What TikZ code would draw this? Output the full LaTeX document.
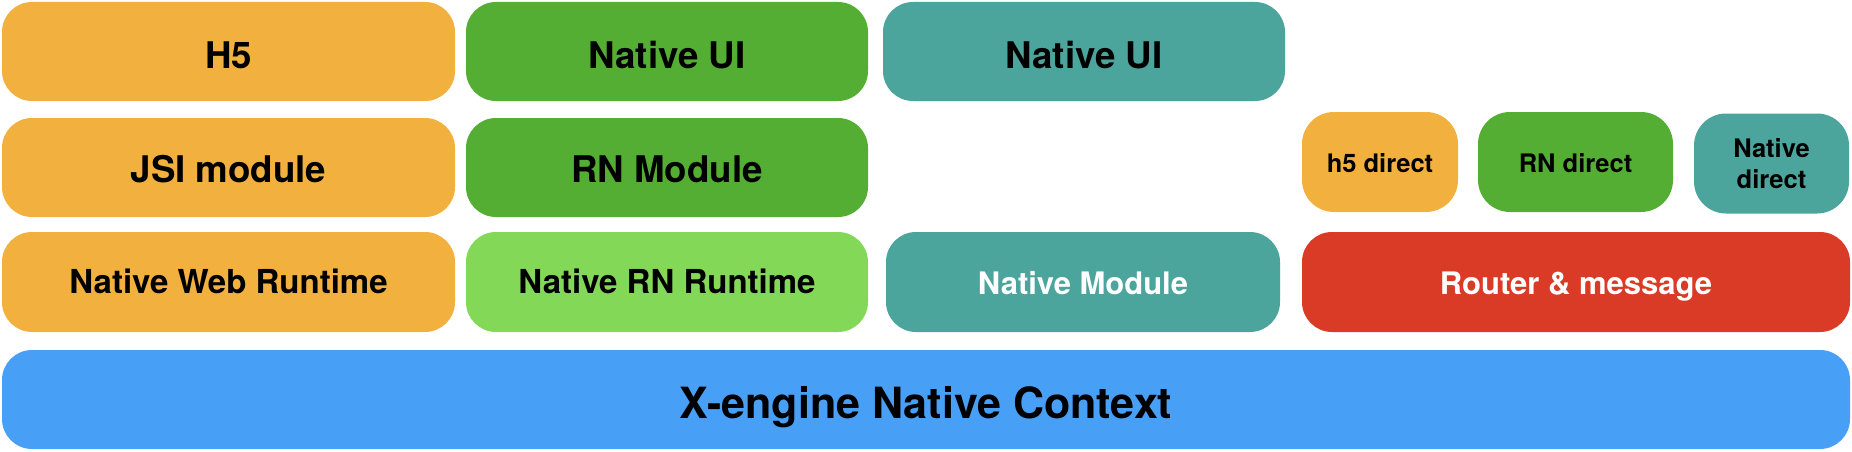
\documentclass[tikz,border=0pt]{standalone}
\usepackage{fontspec}
\setmainfont{TeX Gyre Heros}
\definecolor{cOrange}{HTML}{F2B03F}
\definecolor{cGreen}{HTML}{55AE34}
\definecolor{cTeal}{HTML}{4BA59C}
\definecolor{cLight}{HTML}{84D857}
\definecolor{cRed}{HTML}{DA3B26}
\definecolor{cBlue}{HTML}{489FF6}
\tikzset{
  box/.style={rectangle, rounded corners=30pt, inner sep=0pt, draw=none,
              text=black, font=\bfseries},
  rowone/.style={box, minimum height=99pt, font=\fontsize{36.7}{44}\selectfont\bfseries, text height=33pt, text depth=0pt},
  rowtwo/.style={box, minimum height=99pt, font=\fontsize{36.7}{44}\selectfont\bfseries, text height=29pt, text depth=0pt},
  rowthree/.style={box, minimum height=100pt, font=\fontsize{31}{37}\selectfont\bfseries, text height=24pt, text depth=0pt},
  rowthreebig/.style={rowthree, font=\fontsize{33}{40}\selectfont\bfseries, text height=23pt},
  small/.style={box, minimum height=100pt, rounded corners=32pt, font=\fontsize{25.5}{31}\selectfont\bfseries},
  base/.style={box, minimum height=99pt, font=\fontsize{43}{52}\selectfont\bfseries, text height=37pt, text depth=0pt}
}
\begin{document}
\begin{tikzpicture}[x=1pt,y=-1pt]
\useasboundingbox (0,0) rectangle (1852,452);
% row 1
\node[rowone, fill=cOrange, minimum width=453pt] (h5) at (228.5,51.5) {H5};
\node[rowone, fill=cGreen, minimum width=402pt] (rnui) at (667,51.5) {Native UI};
\node[rowone, fill=cTeal, minimum width=402pt] (nui) at (1084,51.5) {Native UI};
% row 2
\node[rowtwo, fill=cOrange, minimum width=453pt] (jsi) at (228.5,167.5) {JSI module};
\node[rowtwo, fill=cGreen, minimum width=402pt] (rnmod) at (667,167.5) {RN Module};
\node[small, fill=cOrange, minimum width=156pt, text height=20pt, text depth=0pt] (h5d) at (1380,162) {h5 direct};
\node[small, fill=cGreen, minimum width=195pt, text height=20pt, text depth=0pt] (rnd) at (1575.5,162) {RN direct};
\node[small, fill=cTeal, minimum width=155pt, align=center] (nd) at (1771.5,163.5) {Native\\direct};
% row 3
\node[rowthreebig, fill=cOrange, minimum width=453pt] (nwr) at (228.5,282) {Native Web Runtime};
\node[rowthreebig, fill=cLight, minimum width=402pt] (nrr) at (667,282) {Native RN Runtime};
\node[rowthree, fill=cTeal, minimum width=394pt, text=white] (nm) at (1083,282) {Native Module};
\node[rowthree, fill=cRed, minimum width=548pt, text=white] (router) at (1576,282) {Router \& message};
% base
\node[base, fill=cBlue, minimum width=1848pt] (ctx) at (926,399.5) {X-engine Native Context};
\end{tikzpicture}
\end{document}
